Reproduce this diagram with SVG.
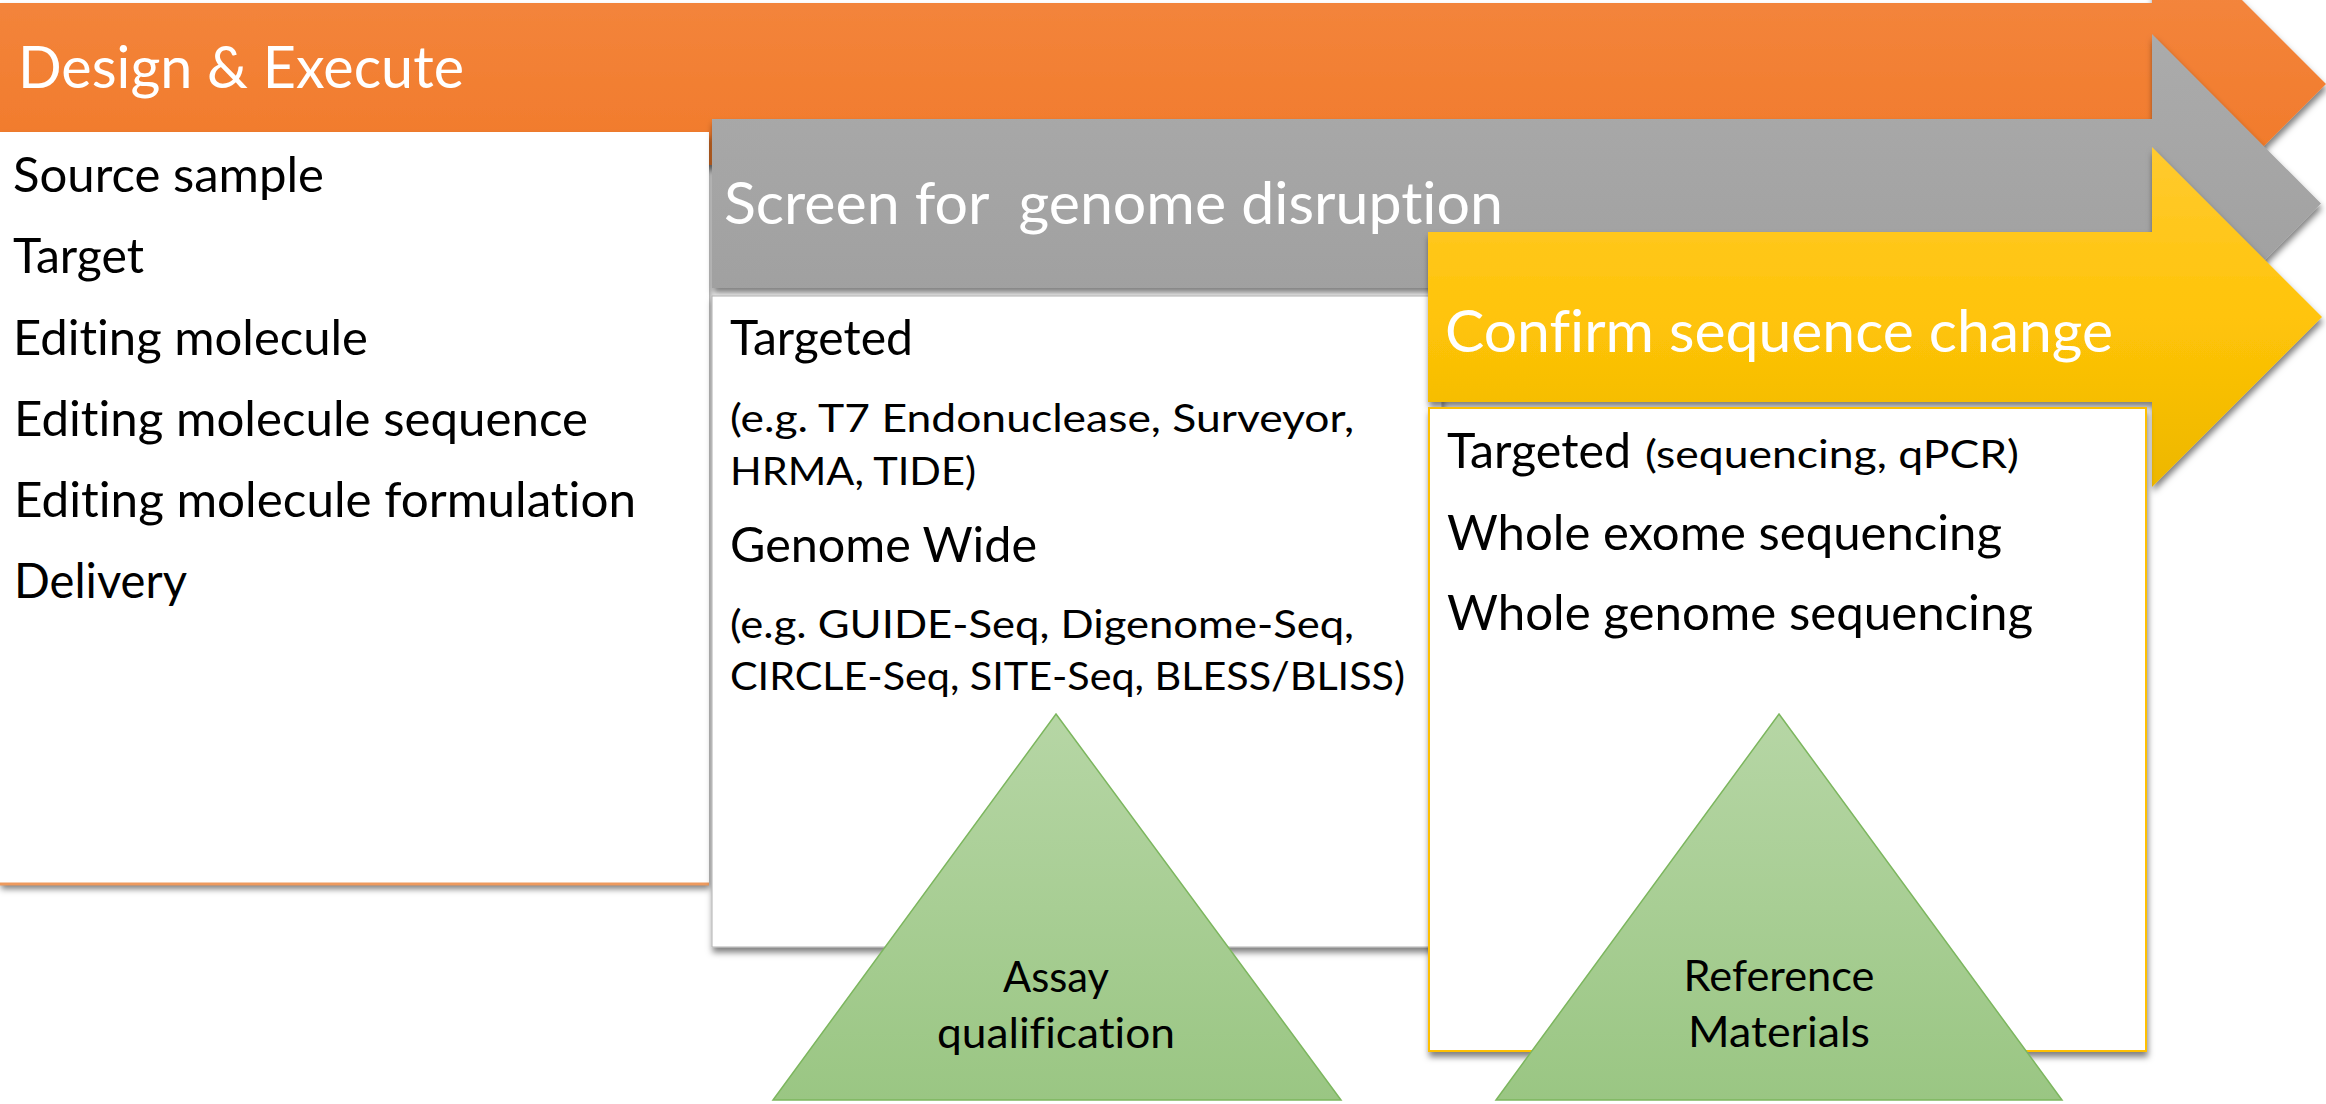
<svg xmlns="http://www.w3.org/2000/svg" width="2326" height="1104" viewBox="0 0 2326 1104">
<defs>
<linearGradient id="gOrange" x1="0" y1="0" x2="0" y2="1">
<stop offset="0" stop-color="#F48A45"/><stop offset="1" stop-color="#F07420"/>
</linearGradient>
<linearGradient id="gGray" x1="0" y1="0" x2="0" y2="1">
<stop offset="0" stop-color="#ABABAB"/><stop offset="1" stop-color="#9D9D9D"/>
</linearGradient>
<linearGradient id="gYellow" x1="0" y1="0" x2="0" y2="1">
<stop offset="0" stop-color="#FFCA30"/><stop offset="0.5" stop-color="#FFC408"/><stop offset="1" stop-color="#EDB700"/>
</linearGradient>
<linearGradient id="gGreen" x1="0" y1="0" x2="0" y2="1">
<stop offset="0" stop-color="#B6D6A5"/><stop offset="1" stop-color="#9AC683"/>
</linearGradient>
<filter id="sh" x="-5%" y="-5%" width="115%" height="120%">
<feDropShadow dx="1" dy="5" stdDeviation="3" flood-color="#000" flood-opacity="0.5"/>
</filter>
</defs>
<style>
.t{font-family:Lato,"Open Sans","Liberation Sans",sans-serif;white-space:pre;font-variant-ligatures:none;font-feature-settings:"liga" 0}
.hdr{font-size:58px;fill:#FFFFFF}
.item{font-size:48px;fill:#000}
.sub{font-size:38px;fill:#000}
.tri{font-size:42px;fill:#000;text-anchor:middle}
.box{fill:#FFFFFF}
</style>
<rect x="0" y="0" width="2326" height="1104" fill="#FFFFFF"/>

<g id="design-execute">
<path d="M0,3 H2152 V-90 L2326,84 L2152,258 V165 H0 Z" fill="url(#gOrange)" filter="url(#sh)"/>
<rect class="box" x="0" y="132" width="709" height="752" filter="url(#sh)"/>
<line x1="0" y1="884" x2="709" y2="884" stroke="#EE9A5E" stroke-width="3"/>
<text class="t hdr" x="18" y="88" textLength="446" lengthAdjust="spacingAndGlyphs">Design &amp; Execute</text>
<text class="t item" x="13" y="192" textLength="311" lengthAdjust="spacingAndGlyphs">Source sample</text>
<text class="t item" x="13" y="273" textLength="131" lengthAdjust="spacingAndGlyphs">Target</text>
<text class="t item" x="13" y="355" textLength="355" lengthAdjust="spacingAndGlyphs">Editing molecule</text>
<text class="t item" x="14" y="436" textLength="574" lengthAdjust="spacingAndGlyphs">Editing molecule sequence</text>
<text class="t item" x="14" y="517" textLength="622" lengthAdjust="spacingAndGlyphs">Editing molecule formulation</text>
<text class="t item" x="14" y="598" textLength="173" lengthAdjust="spacingAndGlyphs">Delivery</text>
</g>

<g id="screen">
<path d="M712,119 H2152 V34 L2321,203.5 L2152,373 V288 H712 Z" fill="url(#gGray)" filter="url(#sh)"/>
<text class="t hdr" x="724" y="224" textLength="779" lengthAdjust="spacingAndGlyphs">Screen for  genome disruption</text>
<rect class="box" x="712" y="296" width="730" height="651" stroke="#B0B0B0" stroke-width="1" filter="url(#sh)"/>
<text class="t item" x="730" y="355" textLength="183" lengthAdjust="spacingAndGlyphs">Targeted</text>
<text class="t sub" x="730" y="432" textLength="624" lengthAdjust="spacingAndGlyphs">(e.g. T7 Endonuclease, Surveyor,</text>
<text class="t sub" x="730" y="485" textLength="246" lengthAdjust="spacingAndGlyphs">HRMA, TIDE)</text>
<text class="t item" x="730" y="562" textLength="307" lengthAdjust="spacingAndGlyphs">Genome Wide</text>
<text class="t sub" x="730" y="638" textLength="624" lengthAdjust="spacingAndGlyphs">(e.g. GUIDE-Seq, Digenome-Seq,</text>
<text class="t sub" x="730" y="690" textLength="675" lengthAdjust="spacingAndGlyphs">CIRCLE-Seq, SITE-Seq, BLESS/BLISS)</text>
</g>

<g id="confirm">
<path d="M1428,232 H2152 V147 L2322,317 L2152,487 V402 H1428 Z" fill="url(#gYellow)" filter="url(#sh)"/>
<text class="t hdr" x="1445" y="352" textLength="668" lengthAdjust="spacingAndGlyphs">Confirm sequence change</text>
<rect class="box" x="1429" y="408" width="717" height="643" stroke="#FFC000" stroke-width="2" filter="url(#sh)"/>
<text class="t item" x="1447" y="468" textLength="184" lengthAdjust="spacingAndGlyphs">Targeted</text>
<text class="t sub" x="1645" y="468" textLength="374" lengthAdjust="spacingAndGlyphs">(sequencing, qPCR)</text>
<text class="t item" x="1447" y="550" textLength="555" lengthAdjust="spacingAndGlyphs">Whole exome sequencing</text>
<text class="t item" x="1447" y="630" textLength="586" lengthAdjust="spacingAndGlyphs">Whole genome sequencing</text>
</g>

<g id="assay-qualification">
<polygon points="1056,714 1341,1100 773,1100" fill="url(#gGreen)" stroke="#7CB65E" stroke-width="1.5"/>
<text class="t tri" x="1056" y="992" textLength="106" lengthAdjust="spacingAndGlyphs">Assay</text>
<text class="t tri" x="1056" y="1048" textLength="238" lengthAdjust="spacingAndGlyphs">qualification</text>
</g>

<g id="reference-materials">
<polygon points="1779,714 2062,1100 1496,1100" fill="url(#gGreen)" stroke="#7CB65E" stroke-width="1.5"/>
<text class="t tri" x="1779" y="991" textLength="191" lengthAdjust="spacingAndGlyphs">Reference</text>
<text class="t tri" x="1779" y="1047" textLength="182" lengthAdjust="spacingAndGlyphs">Materials</text>
</g>

<g id="connectors"></g>
</svg>
